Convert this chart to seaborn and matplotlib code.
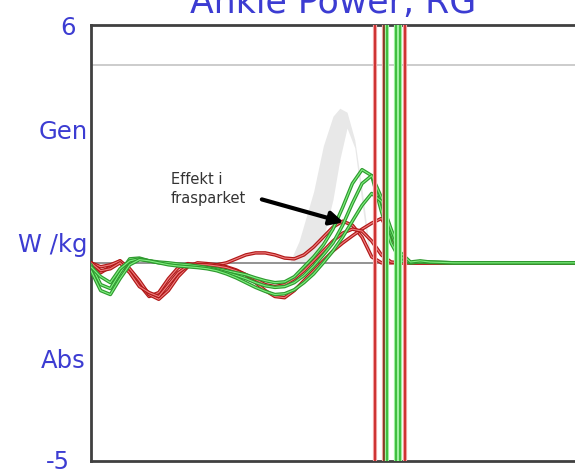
import numpy as np
import pandas as pd
import matplotlib
matplotlib.use("Agg")
import matplotlib.pyplot as plt
import matplotlib.patheffects as pe
import seaborn as sns

# ---------------- data ----------------
gait_pct = [0, 2, 4, 6, 8, 10, 12, 14, 16, 18, 20, 22, 24, 26, 28, 30, 32, 34,
            36, 38, 40, 42, 44, 46, 48, 50, 52, 54, 56, 58, 60, 62, 64, 66, 68, 70,
            75, 80, 85, 90, 95, 100]

green_1 = [-0.05, -0.55, -0.65, -0.25, 0.10, 0.12, 0.05, 0.00, -0.02, -0.05, -0.08, -0.10,
           -0.12, -0.15, -0.20, -0.25, -0.30, -0.38, -0.45, -0.50, -0.48, -0.35, -0.10, 0.15,
           0.45, 0.85, 1.40, 2.00, 2.35, 2.20, 1.30, 0.50, 0.05, 0.00, 0.03, 0.02,
           0.0, 0.0, 0.0, 0.0, 0.0, 0.0]
green_2 = [-0.10, -0.35, -0.50, -0.15, 0.05, 0.10, 0.05, 0.02, 0.00, -0.03, -0.05, -0.08,
           -0.12, -0.18, -0.25, -0.32, -0.40, -0.50, -0.58, -0.62, -0.60, -0.50, -0.32, -0.08,
           0.20, 0.50, 0.95, 1.50, 2.00, 2.20, 1.65, 0.75, 0.15, 0.00, 0.02, 0.01,
           0.0, 0.0, 0.0, 0.0, 0.0, 0.0]
green_3 = [-0.20, -0.70, -0.80, -0.40, -0.05, 0.08, 0.05, 0.00, -0.05, -0.08, -0.10, -0.12,
           -0.15, -0.20, -0.28, -0.38, -0.50, -0.62, -0.72, -0.80, -0.78, -0.68, -0.50, -0.28,
           0.00, 0.30, 0.65, 1.05, 1.45, 1.75, 1.55, 0.85, 0.25, 0.02, 0.05, 0.02,
           0.0, 0.0, 0.0, 0.0, 0.0, 0.0]

red_1 = [0.00, -0.25, -0.10, 0.05, -0.20, -0.55, -0.85, -0.75, -0.40, -0.12, -0.02, -0.05,
         -0.08, -0.05, 0.00, 0.10, 0.20, 0.25, 0.25, 0.20, 0.12, 0.10, 0.20, 0.40,
         0.65, 0.90, 1.05, 0.95, 0.65, 0.15, 0.00, 0.00, 0.00, 0.00, 0.00, 0.00,
         0.0, 0.0, 0.0, 0.0, 0.0, 0.0]
red_2 = [0.00, -0.10, -0.05, 0.05, -0.15, -0.45, -0.80, -0.92, -0.70, -0.35, -0.10, 0.00,
         -0.02, -0.05, -0.10, -0.18, -0.30, -0.50, -0.70, -0.85, -0.88, -0.70, -0.45, -0.20,
         0.05, 0.30, 0.50, 0.68, 0.85, 1.00, 1.12, 0.70, 0.20, 0.00, 0.00, 0.00,
         0.0, 0.0, 0.0, 0.0, 0.0, 0.0]
red_3 = [0.00, -0.20, -0.15, 0.00, -0.25, -0.60, -0.75, -0.85, -0.55, -0.25, -0.08, -0.05,
         -0.05, -0.08, -0.12, -0.20, -0.30, -0.42, -0.55, -0.60, -0.55, -0.40, -0.20, 0.05,
         0.30, 0.55, 0.75, 0.85, 0.80, 0.55, 0.20, 0.02, 0.00, 0.00, 0.00, 0.00,
         0.0, 0.0, 0.0, 0.0, 0.0, 0.0]

# normal band (grey)
band_x = [40, 41, 43, 46, 48, 50, 51.4, 52.9, 54.5, 56, 57.2, 58, 59]
band_upper = [0.0, 0.0, 0.55, 1.8, 2.95, 3.7, 3.9, 3.8, 3.1, 1.85, 0.7, 0.0, 0.0]
band_lower = [0.0, 0.0, 0.0, 0.0, 0.6, 1.6, 2.6, 3.4, 2.9, 1.5, 0.4, 0.0, 0.0]

# toe-off event lines
toeoff_red = [58.7, 60.5, 64.9]
toeoff_red_colors = ["#c81e1e", "#6a3010", "#c81e1e"]
toeoff_green = [61.1, 63.0, 63.8]

ref_lines = [0, 5]

y_tick_vals = [6, 3.35, 0.55, -2.3, -5]
y_tick_labels = ["6", "Gen", "W /kg", "Abs", "-5"]

title = "Ankle Power, RG"
note = "Effekt i\nfrasparket"

# ---------------- plot ----------------
sns.set_style("white")
plt.rcParams["font.family"] = ["DejaVu Sans"]

W, H = 575, 474
fig = plt.figure(figsize=(W / 100, H / 100), dpi=100)
ax = fig.add_axes([91 / W, 1 - 461 / H, 1 - 91 / W, (461 - 25) / H])
ax.set_xlim(0, 100)
ax.set_ylim(-5, 6)

# grey normal band
ax.fill_between(band_x, band_lower, band_upper, color="#e8e8e8", lw=0, zorder=1)

# reference lines
ax.axhline(ref_lines[0], color="#8a8a8a", lw=1.3, zorder=2)
ax.axhline(ref_lines[1], color="#c8c8c8", lw=1.3, zorder=2)

df = pd.DataFrame({"pct": gait_pct,
                   "g1": green_1, "g2": green_2, "g3": green_3,
                   "r1": red_1, "r2": red_2, "r3": red_3})

red_fx = [pe.Stroke(linewidth=2.5, foreground="#b01818"), pe.Normal()]
green_fx = [pe.Stroke(linewidth=2.5, foreground="#2f9a2f"), pe.Normal()]

for col in ["r1", "r2", "r3"]:
    sns.lineplot(data=df, x="pct", y=col, ax=ax, color="#f08080", lw=0.8,
                 path_effects=red_fx, zorder=4)
for col in ["g1", "g2", "g3"]:
    sns.lineplot(data=df, x="pct", y=col, ax=ax, color="#80f080", lw=0.8,
                 path_effects=green_fx, zorder=5)

for xv, c in zip(toeoff_red, toeoff_red_colors):
    ax.axvline(xv, color=c, lw=1.2, zorder=6,
               path_effects=[pe.Stroke(linewidth=3.0, foreground="#f0a0a0"), pe.Normal()])
for xv in toeoff_green:
    ax.axvline(xv, color="#2fb52f", lw=1.2, zorder=6,
               path_effects=[pe.Stroke(linewidth=3.0, foreground="#a0f0a0"), pe.Normal()])

# annotation
ax.text(16.5, 1.86, note, fontsize=10.5, color="#333333", va="center", ha="left",
        linespacing=1.4, zorder=8)
ax.annotate("", xy=(52.2, 1.02), xytext=(35.3, 1.6),
            arrowprops=dict(arrowstyle="-|>", lw=3, color="black",
                            mutation_scale=20, shrinkA=0, shrinkB=0), zorder=9)

# axes styling
ax.set_xticks([])
ax.set_yticks([])
ax.set_xlabel("")
ax.set_ylabel("")
for s in ["top", "bottom", "left"]:
    ax.spines[s].set_color("#404040")
    ax.spines[s].set_linewidth(2)
ax.spines["right"].set_visible(False)

blue = "#3c3cd2"
label_pos = {"6": (76, 28), "Gen": (88, 132), "W /kg": (87, 245),
             "Abs": (86, 361), "-5": (70, 462)}
for val, lab in zip(y_tick_vals, y_tick_labels):
    px, py = label_pos[lab]
    fig.text(px / W, 1 - py / H, lab, color=blue, fontsize=17.5,
             ha="right", va="center")

fig.text(333 / W, 1 - 13 / H, title, color=blue, fontsize=25,
         ha="center", va="baseline")

fig.savefig("out.png", dpi=100)
